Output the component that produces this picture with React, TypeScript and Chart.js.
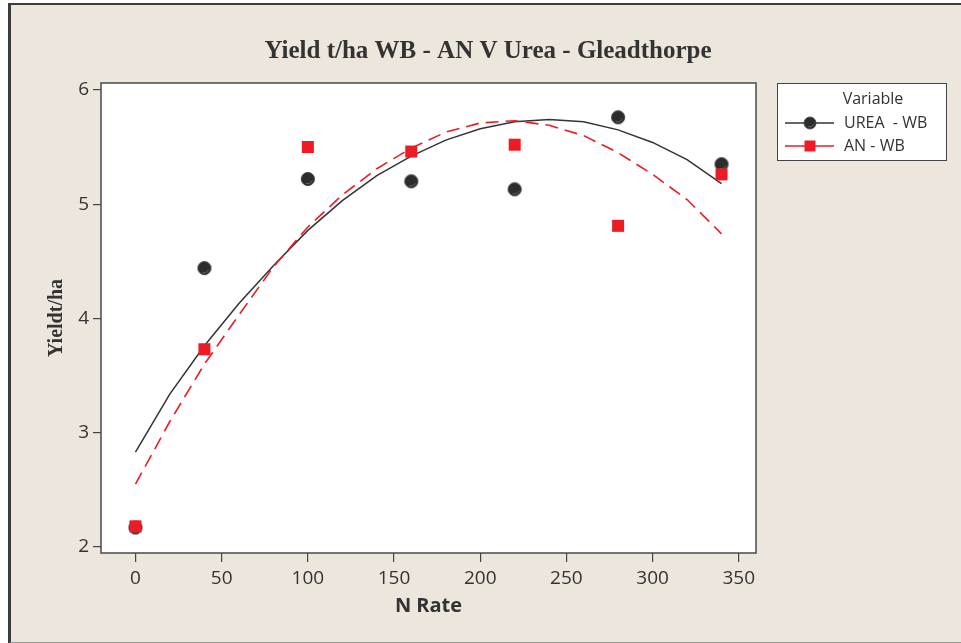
import React, { useEffect, useRef } from "react";
import { Chart, registerables } from "chart.js";

Chart.register(...registerables);

// Observed yields (t/ha) at each nitrogen rate
const nRates = [0, 40, 100, 160, 220, 280, 340];
const ureaYield = [2.17, 4.44, 5.22, 5.2, 5.13, 5.76, 5.35];
const anYield = [2.18, 3.73, 5.5, 5.46, 5.52, 4.81, 5.26];

// Fitted response curves
const fitRates = [0, 20, 40, 60, 80, 100, 120, 140, 160, 180, 200, 220, 240, 260, 280, 300, 320, 340];
const ureaFit = [2.83, 3.34, 3.76, 4.13, 4.46, 4.77, 5.03, 5.25, 5.42, 5.56, 5.66, 5.72, 5.74, 5.72, 5.65, 5.54, 5.39, 5.18];
const anFit = [2.55, 3.1, 3.6, 4.03, 4.45, 4.8, 5.08, 5.31, 5.49, 5.63, 5.71, 5.73, 5.69, 5.6, 5.45, 5.26, 5.04, 4.74];

const xTicks = [0, 50, 100, 150, 200, 250, 300, 350];
const yTicks = [2, 3, 4, 5, 6];

const seriesNames = ["UREA  - WB", "AN - WB"];
const chartTitle = "Yield t/ha WB - AN V Urea - Gleadthorpe";
const xTitle = "N Rate";
const yTitle = "Yieldt/ha";
const legendTitle = "Variable";

const INK = "#333333";
const RED = "#ed1c24";
const DOT = "#2c2c2c";

function makeDot(r: number): HTMLCanvasElement {
  const size = Math.ceil(r * 2 + 2);
  const c = document.createElement("canvas");
  c.width = size;
  c.height = size;
  const g = c.getContext("2d")!;
  const m = size / 2;
  g.beginPath();
  g.arc(m, m, r, 0, Math.PI * 2);
  g.fillStyle = DOT;
  g.fill();
  g.strokeStyle = "#4a4a4a";
  g.lineWidth = 1;
  g.stroke();
  // faint rim highlight on the lower edge
  g.beginPath();
  g.arc(m - 0.5, m - 0.8, r - 1.3, 0.15 * Math.PI, 0.6 * Math.PI);
  g.strokeStyle = "#6e6e6e";
  g.lineWidth = 0.9;
  g.stroke();
  return c;
}

const frame = {
  id: "frame",
  beforeDraw(chart: any) {
    const { ctx, chartArea: a } = chart;
    ctx.save();
    ctx.fillStyle = "#ffffff";
    ctx.fillRect(a.left, a.top, a.right - a.left, a.bottom - a.top);
    ctx.restore();
  },
  afterDraw(chart: any) {
    const { ctx, chartArea: a } = chart;
    ctx.save();
    // plot box
    ctx.strokeStyle = "#4a4a4a";
    ctx.lineWidth = 1.5;
    ctx.strokeRect(a.left, a.top, a.right - a.left, a.bottom - a.top);

    // title
    ctx.fillStyle = INK;
    ctx.textAlign = "center";
    ctx.textBaseline = "middle";
    ctx.font = "bold 25px 'Liberation Serif'";
    ctx.fillText(chartTitle, 488, 52);

    // axis titles
    ctx.font = "bold 20px 'Open Sans'";
    ctx.fillText(xTitle, (a.left + a.right) / 2, 606);
    ctx.save();
    ctx.translate(57, (a.top + a.bottom) / 2);
    ctx.rotate(-Math.PI / 2);
    ctx.font = "bold 20px 'Liberation Serif'";
    ctx.fillText(yTitle, 0, 0);
    ctx.restore();

    // legend
    const lx = 777.5, ly = 83.5, lw = 169, lh = 77;
    ctx.fillStyle = "#ffffff";
    ctx.fillRect(lx, ly, lw, lh);
    ctx.strokeStyle = "#444";
    ctx.lineWidth = 1;
    ctx.strokeRect(lx, ly, lw, lh);
    ctx.fillStyle = INK;
    ctx.font = "16px 'Open Sans'";
    ctx.textAlign = "center";
    ctx.fillText(legendTitle, 873, 99);
    ctx.textAlign = "left";

    const rows = [123, 146];
    // urea row
    ctx.strokeStyle = INK;
    ctx.lineWidth = 1.5;
    ctx.beginPath();
    ctx.moveTo(785, rows[0]);
    ctx.lineTo(834, rows[0]);
    ctx.stroke();
    const d = makeDot(6);
    ctx.drawImage(d, 810 - d.width / 2, rows[0] - d.height / 2);
    ctx.fillStyle = INK;
    ctx.fillText(seriesNames[0], 844, rows[0]);
    // AN row
    ctx.strokeStyle = RED;
    ctx.beginPath();
    ctx.moveTo(785, rows[1]);
    ctx.lineTo(834, rows[1]);
    ctx.stroke();
    ctx.fillStyle = RED;
    ctx.fillRect(804.5, rows[1] - 5.5, 11, 11);
    ctx.fillStyle = INK;
    ctx.fillText(seriesNames[1], 844, rows[1]);
    ctx.restore();
  },
};

export default function App() {
  const ref = useRef<HTMLCanvasElement | null>(null);

  useEffect(() => {
    if (!ref.current) return;
    const dot = makeDot(6.6);
    const tickFont = { family: "'Open Sans'", size: 19 };
    const chart = new Chart(ref.current, {
      type: "scatter",
      data: {
        datasets: [
          {
            label: seriesNames[1],
            data: nRates.map((x, i) => ({ x, y: anYield[i] })),
            pointStyle: "rect",
            pointRadius: 8.5,
            backgroundColor: RED,
            borderColor: RED,
            borderWidth: 0,
            showLine: false,
            order: 0,
          },
          {
            label: seriesNames[0],
            data: nRates.map((x, i) => ({ x, y: ureaYield[i] })),
            pointStyle: dot,
            pointRadius: 7,
            backgroundColor: DOT,
            borderColor: DOT,
            showLine: false,
            order: 1,
          },
          {
            label: "AN fit",
            data: fitRates.map((x, i) => ({ x, y: anFit[i] })),
            showLine: true,
            pointRadius: 0,
            borderColor: RED,
            borderWidth: 1.6,
            borderDash: [13, 7],
            tension: 0,
            order: 2,
          },
          {
            label: "UREA fit",
            data: fitRates.map((x, i) => ({ x, y: ureaFit[i] })),
            showLine: true,
            pointRadius: 0,
            borderColor: INK,
            borderWidth: 1.5,
            tension: 0,
            order: 3,
          },
        ],
      },
      options: {
        responsive: false,
        animation: false,
        events: [],
        layout: { padding: { left: 0, top: 83, right: 205, bottom: 0 } },
        plugins: {
          legend: { display: false },
          title: { display: false },
          tooltip: { enabled: false },
        },
        scales: {
          x: {
            type: "linear",
            min: -20,
            max: 360,
            afterFit: (s: any) => {
              s.height = 90;
            },
            afterBuildTicks: (s: any) => {
              s.ticks = xTicks.map((v) => ({ value: v }));
            },
            grid: {
              drawOnChartArea: false,
              drawTicks: true,
              tickLength: 9,
              color: "#444",
              lineWidth: 1.2,
            },
            border: { display: false },
            ticks: { color: INK, font: tickFont, padding: 5, maxRotation: 0 },
          },
          y: {
            type: "linear",
            min: 1.947,
            max: 6.06,
            afterFit: (s: any) => {
              s.width = 101;
            },
            afterBuildTicks: (s: any) => {
              s.ticks = yTicks.map((v) => ({ value: v }));
            },
            grid: {
              drawOnChartArea: false,
              drawTicks: true,
              tickLength: 8,
              color: "#444",
              lineWidth: 1.2,
            },
            border: { display: false },
            ticks: { color: INK, font: tickFont, padding: 4 },
          },
        },
      },
      plugins: [frame],
    } as any);
    return () => chart.destroy();
  }, []);

  return (
    <div style={{ position: "fixed", left: 0, top: 0, width: 961, height: 643, background: "#ffffff", overflow: "hidden" }}>
      <div
        style={{
          position: "absolute",
          left: 8,
          top: 3,
          width: 960,
          height: 637,
          background: "#ede6dd",
          borderLeft: "3px solid #3c3c3c",
          borderTop: "2px solid #3c3c3c",
          borderBottom: "2px solid #9a9a9a",
        }}
      />
      <canvas ref={ref} width={961} height={643} style={{ position: "absolute", left: 0, top: 0, width: 961, height: 643 }} />
    </div>
  );
}
